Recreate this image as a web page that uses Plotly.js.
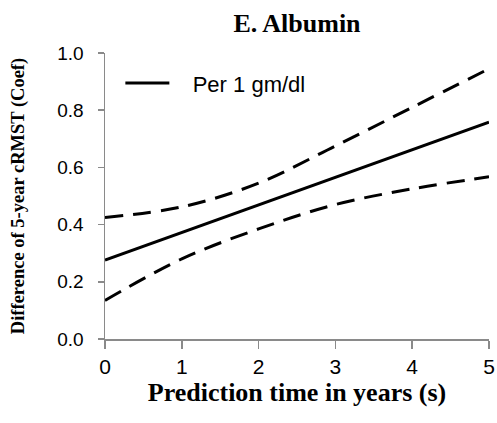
<!DOCTYPE html>
<html>
<head>
<meta charset="utf-8">
<script src="https://cdn.plot.ly/plotly-3.0.1.min.js"></script>
<style>html,body{margin:0;padding:0;background:#fff;}#chart{width:497px;height:423px;}</style>
</head>
<body>
<div id="chart"></div>
<script>
const years = [0, 1, 2, 3, 4, 5];
const estimate = [0.276, 0.372, 0.468, 0.565, 0.662, 0.758];
const upperCI = [0.425, 0.462, 0.545, 0.675, 0.81, 0.945];
const lowerCI = [0.135, 0.28, 0.385, 0.47, 0.525, 0.567];
const yTicks = [0, 0.2, 0.4, 0.6, 0.8, 1.0];
const xTicks = [0, 1, 2, 3, 4, 5];
const legendLabel = "Per 1 gm/dl";

const serif = "Liberation Serif, Times New Roman, serif";
const sans = "Liberation Sans, Arial, sans-serif";
const axisGray = "#8a8a8a";

const traces = [
  {x: years, y: estimate, mode: "lines", name: "\u00a0\u00a0\u00a0" + legendLabel,
   line: {color: "#000", width: 3}, showlegend: true},
  {x: years, y: upperCI, mode: "lines", name: "upper",
   line: {color: "#000", width: 3, dash: "18px,10px", shape: "spline"}, showlegend: false},
  {x: years, y: lowerCI, mode: "lines", name: "lower",
   line: {color: "#000", width: 3, dash: "18px,10px", shape: "spline"}, showlegend: false}
];

const layout = {
  width: 497, height: 423,
  paper_bgcolor: "#fff", plot_bgcolor: "#fff",
  margin: {l: 105, r: 8, t: 53, b: 84},
  title: {text: "<b>E. Albumin</b>", font: {family: serif, size: 26, color: "#000"},
          x: 0.5, xref: "paper", xanchor: "center", y: 1 - 23/423, yanchor: "middle"},
  showlegend: true,
  legend: {x: 0.04, xanchor: "left", y: 0.894, yanchor: "middle",
           font: {family: sans, size: 22, color: "#000"}, bgcolor: "rgba(0,0,0,0)",
           borderwidth: 0, itemwidth: 44},
  xaxis: {range: [0, 5], tickvals: xTicks, ticktext: xTicks.map(String),
          showgrid: false, zeroline: false, showline: true, linecolor: axisGray, linewidth: 1.5,
          ticks: "outside", ticklen: 8, tickwidth: 1.5, tickcolor: axisGray,
          tickfont: {family: sans, size: 21, color: "#000"}, ticklabelstandoff: 0,
          title: {text: "<b>Prediction time in years (s)</b>", font: {family: serif, size: 26, color: "#000"}, standoff: 4},
          automargin: false, fixedrange: true},
  yaxis: {range: [0, 1], tickvals: yTicks, ticktext: yTicks.map(v => v.toFixed(1)),
          showgrid: false, zeroline: false, showline: true, linecolor: axisGray, linewidth: 1.5,
          ticks: "outside", ticklen: 6, tickwidth: 1.5, tickcolor: axisGray,
          tickfont: {family: sans, size: 19, color: "#000"}, ticklabelstandoff: 10,
          title: {text: "<b>Difference of 5-year cRMST (Coef)</b>", font: {family: serif, size: 18.5, color: "#000"}, standoff: 28},
          automargin: false, fixedrange: true}
};

Plotly.newPlot("chart", traces, layout, {displayModeBar: false, staticPlot: true});
</script>
</body>
</html>
